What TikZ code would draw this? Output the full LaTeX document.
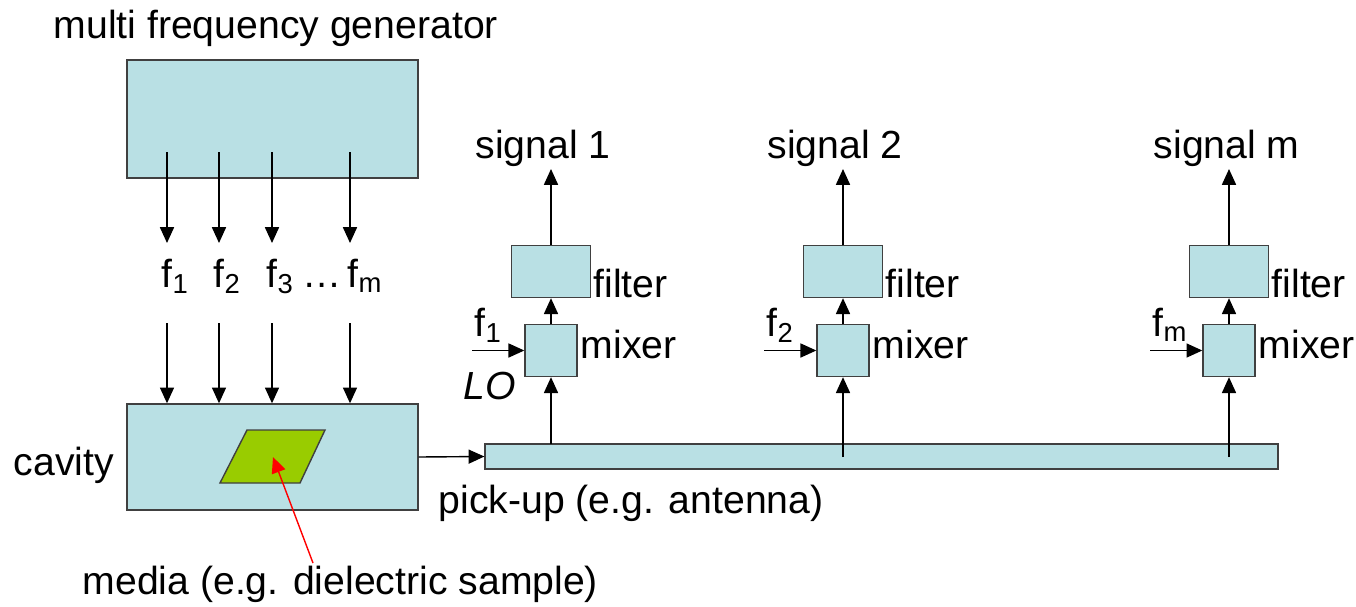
\documentclass[tikz,border=0pt]{standalone}
\usepackage{fontspec}
\setmainfont{Liberation Sans}
\usetikzlibrary{arrows.meta,positioning}
\definecolor{boxblue}{RGB}{185,224,228}
\definecolor{samplegreen}{RGB}{153,204,0}
\definecolor{edgegray}{RGB}{64,64,64}

\begin{document}
\begin{tikzpicture}[x=0.02cm,y=-0.02cm,>={Triangle[length=9pt,width=8pt]},line width=0.8pt,
 blk/.style={draw=edgegray,fill=boxblue,inner sep=0pt},
 mixbox/.style={blk,minimum width=1.04cm,minimum height=1.04cm},
 filbox/.style={blk,minimum width=1.58cm,minimum height=1.04cm},
 lbl/.style={font=\fontsize{22.3}{26}\selectfont,inner sep=0pt}]
 \useasboundingbox (0,0) rectangle (1356,606);
 % generator and cavity
 \node[blk,minimum width=5.82cm,minimum height=2.36cm] (gen) at (272.5,119) {};
 \node[lbl,anchor=base west] (gentxt) at (53,38) {multi frequency generator};
 \node[blk,minimum width=5.82cm,minimum height=2.12cm] (cav) at (272.5,457) {};
 \node[lbl,anchor=base west] (cavtxt) at (13,475) {cavity};
 \draw[draw=edgegray,fill=samplegreen] (247,430) coordinate (s1) -- (325,430) -- (300,483) -- (220,483) -- cycle;
 \coordinate (media) at (273,457);
 \node[lbl,anchor=base west] (mediatxt) at (82,594) {media (e.g. dielectric sample)};
 \draw[->,red] (313,563) coordinate (mtail) -- (media);
 % frequencies
 \foreach \i/\x/\t/\d in {1/167/1/-6,2/219/2/-6,3/272/3/-6,4/350/m/-3}{
  \coordinate (gtop\i) at (\x,152);
  \coordinate (gbot\i) at (\x,243);
  \coordinate (ctop\i) at (\x,323);
  \node[lbl,anchor=base west] (f\i) at (\x+\d,287) {f\textsubscript{\t}};
  \draw[->] (gtop\i) -- (gbot\i);
  \draw[->] (ctop\i) -- (ctop\i |- cav.north);
 }
 \node[lbl,anchor=base west] (dots) at (302,287) {…};
 % pick-up
 \node[blk,minimum width=15.86cm,minimum height=0.5cm] (bar) at (881.5,456.5) {};
 \node[lbl,anchor=base west] (bartxt) at (438,513) {pick-up (e.g. antenna)};
 \draw[->] (cav.east) -- (bar.west);
 % mixer / filter chains
 \foreach \j/\x/\s/\y in {1/551/1/444,2/843/2/457,3/1229/m/457}{
  \node[mixbox] (mix\j) at (\x,350.5) {};
  \node[filbox] (fil\j) at (\x,271.5) {};
  \node[lbl,anchor=base west] at (\x+29,358) {mixer};
  \node[lbl,anchor=base west] at (\x+42,297) {filter};
  \node[lbl,anchor=base west] (sig\j) at (\x-76,158) {signal \s};
  \coordinate (out\j) at (\x,169);
  \coordinate (lo\j) at (\x-79,350.5);
  \coordinate (tap\j) at (\x,\y);
  \node[lbl,anchor=base west] (flo\j) at (\x-77,336) {f\textsubscript{\s}};
  \draw[->] (tap\j) -- (mix\j);
  \draw[->] (mix\j) -- (fil\j);
  \draw[->] (fil\j) -- (out\j);
  \draw[->] (lo\j) -- (mix\j);
 }
 \node[lbl,anchor=base west,font=\fontsize{22.3}{26}\selectfont\itshape] (lotxt) at (463,399) {LO};
\end{tikzpicture}
\end{document}
